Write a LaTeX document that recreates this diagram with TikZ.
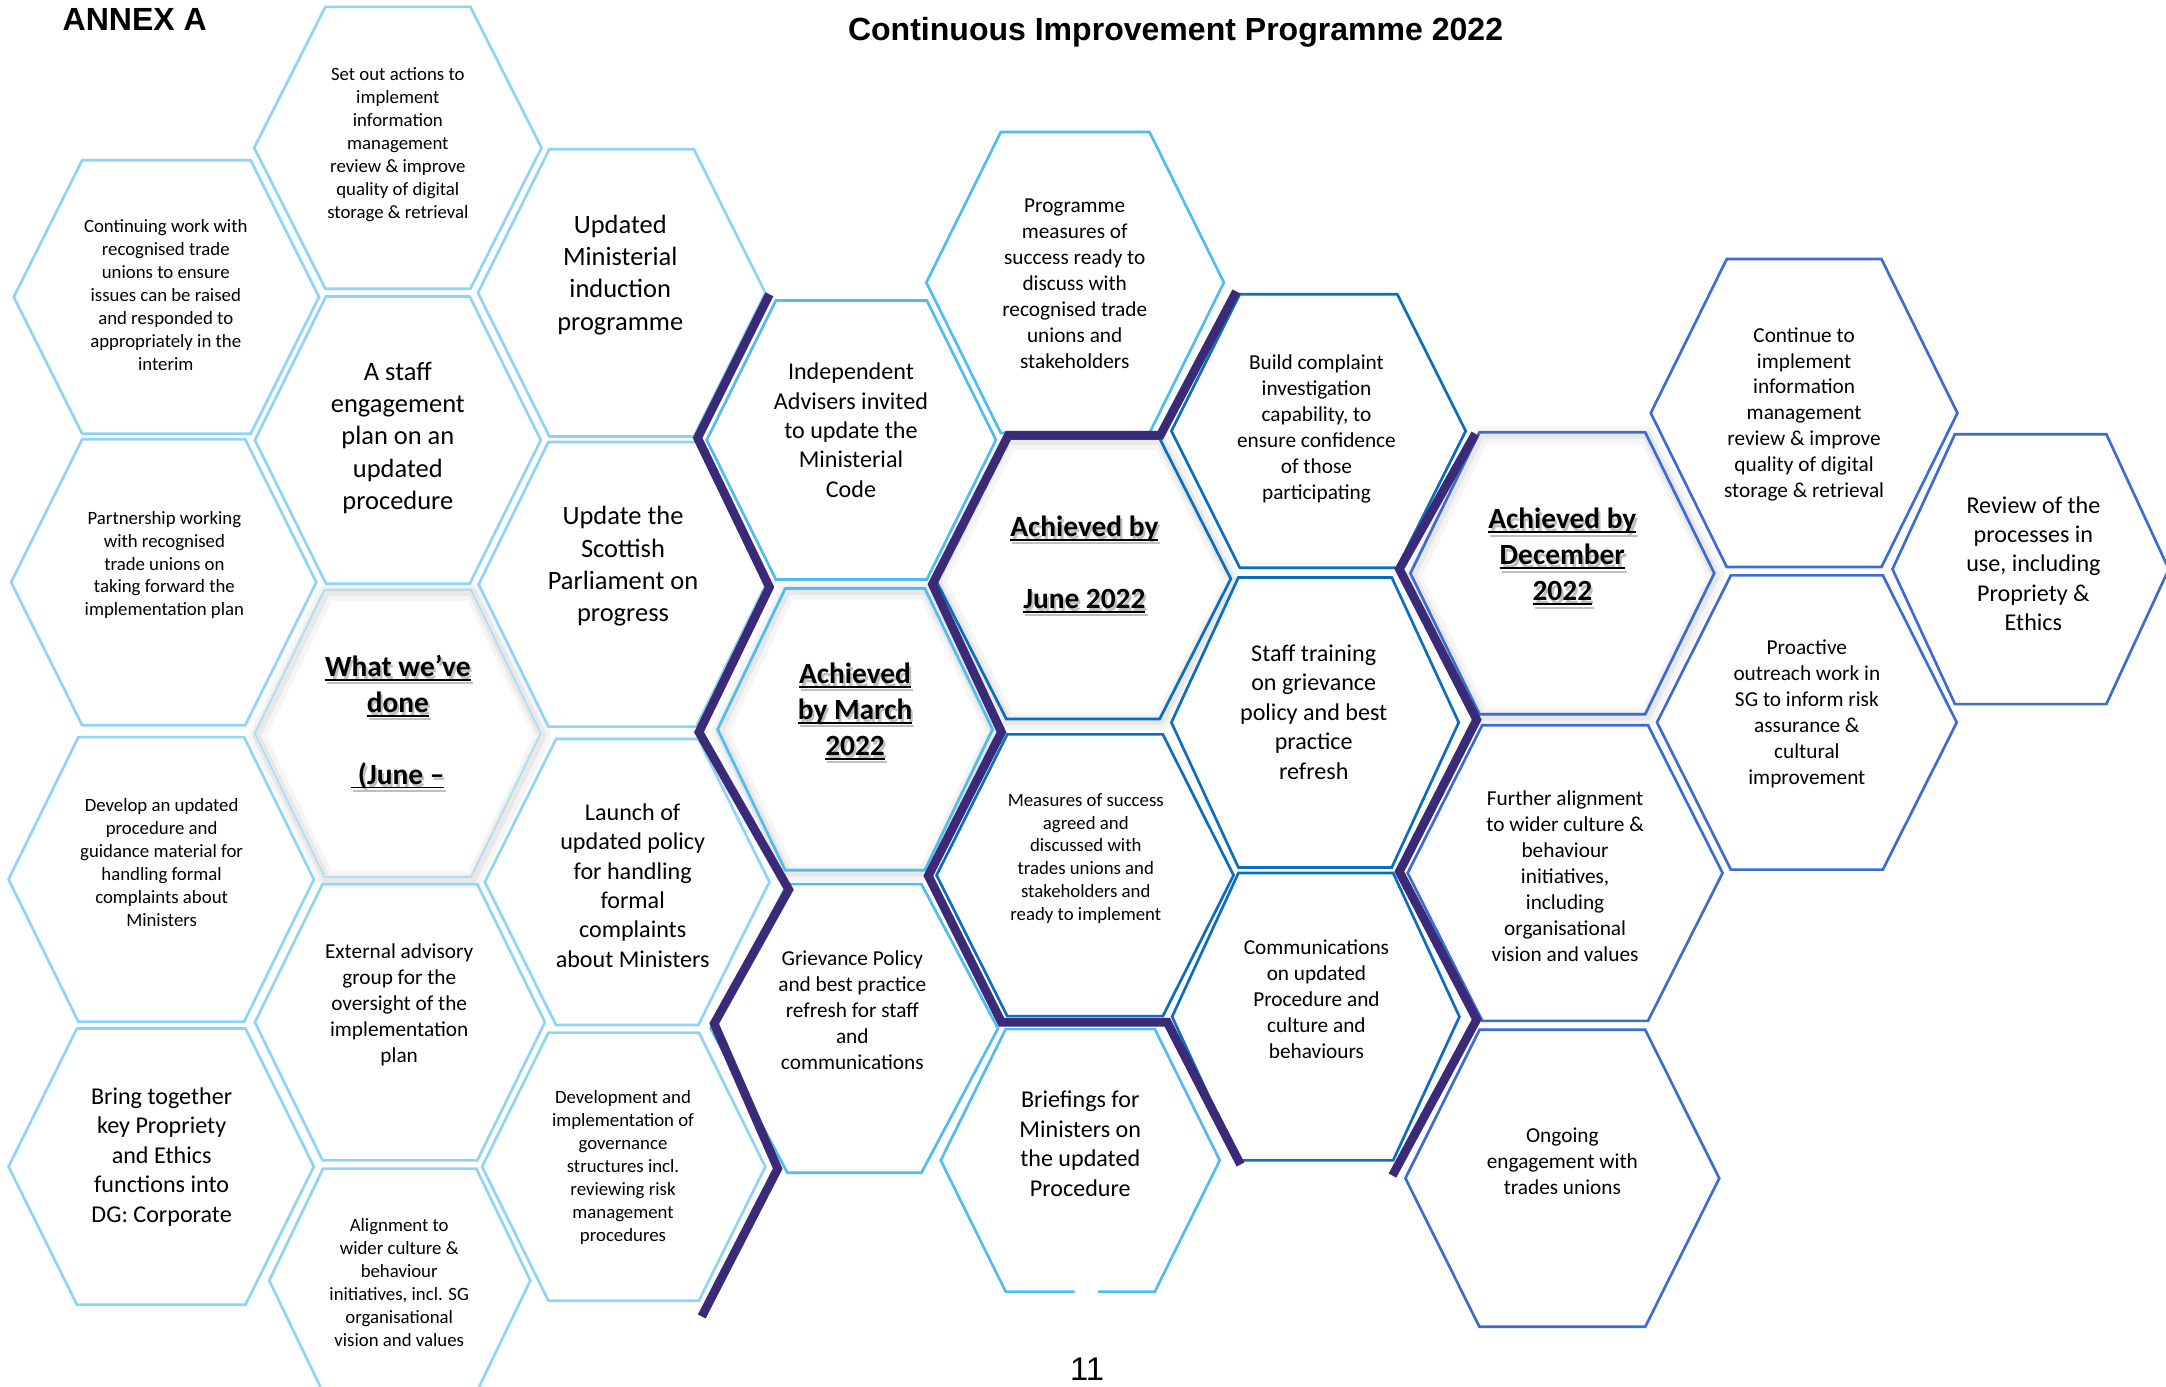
\documentclass[tikz,border=0pt]{standalone}
\usepackage{fontspec}
\setmainfont{Carlito}
\newfontfamily\arialfont{Liberation Sans}

\definecolor{celllight}{HTML}{8FD3F7}
\definecolor{cellmid}{HTML}{4FBCF2}
\definecolor{celldark}{HTML}{0B6DC0}
\definecolor{cellroyal}{HTML}{3C6BD2}
\definecolor{timelinepurple}{HTML}{3A2A78}

% underline at a fixed depth below the baseline
\newcommand{\ulined}[1]{\setbox0\hbox{#1}\rlap{\rule[-1.8pt]{\wd0}{0.8pt}}\box0}

\begin{document}
\begin{tikzpicture}[x=0.02cm, y=-0.02cm,
	lightcell/.style={draw=celllight, line width=1.1pt},
	midcell/.style={draw=cellmid, line width=1.1pt},
	darkcell/.style={draw=celldark, line width=1.1pt},
	royalcell/.style={draw=cellroyal, line width=1.1pt},
	cellglow/.style={draw=black!#1, line join=round},
	timeline/.style={draw=timelinepurple, line width=3.6pt},
	s7text/.style={font=\fontsize{7.74}{9.45}\selectfont, align=center, inner sep=0},
	s8text/.style={font=\fontsize{8.77}{10.7}\selectfont, align=center, inner sep=0},
	s9text/.style={font=\fontsize{9.93}{12.1}\selectfont, align=center, inner sep=0},
	s10text/.style={font=\fontsize{10.9}{13.3}\selectfont, align=center, inner sep=0},
	headtext/.style={font=\fontsize{12.1}{14.8}\selectfont\bfseries, align=center, inner sep=0},
	headshade/.style={headtext, text=black!25}]
	\path [use as bounding box, clip] (0,0) rectangle (1568,1004);

	% Glow round the milestone cells %
	\foreach \cx/\cy/\w/\a/\h in {288/531/103.5/53/104, 619/528/99.5/50.5/102, 784/419/107/55.5/101.5, 1131/415/110/60/102}
		{\draw [cellglow=4, line width=7pt, shift={(1.5,2)}] (\cx-\w,\cy) -- (\cx-\a,\cy-\h) -- (\cx+\a,\cy-\h) -- (\cx+\w,\cy) -- (\cx+\a,\cy+\h) -- (\cx-\a,\cy+\h) -- cycle;
		 \draw [cellglow=9, line width=3.5pt, shift={(1,1.5)}] (\cx-\w,\cy) -- (\cx-\a,\cy-\h) -- (\cx+\a,\cy-\h) -- (\cx+\w,\cy) -- (\cx+\a,\cy+\h) -- (\cx-\a,\cy+\h) -- cycle;}

	% Light cells, what has been done %
	\foreach \cx/\cy/\w/\a/\h in {120.5/215/110.5/61/99, 118.5/421.5/110.5/59/103.5, 116.7/636.6/110.5/60/103, 116.7/844.5/110.5/61/100,
			288/107/104/52.5/102, 288/318.6/103.5/52/104, 289.5/740/105/56/100, 289.4/927/94.5/55.5/81,
			450/212/104/52.3/104, 450.5/423/104/53.5/103, 454/638.5/103/51.5/103.5, 451.5/844.6/102.5/54.5/97}
		{\draw [lightcell] (\cx-\w,\cy) -- (\cx-\a,\cy-\h) -- (\cx+\a,\cy-\h) -- (\cx+\w,\cy) -- (\cx+\a,\cy+\h) -- (\cx-\a,\cy+\h) -- cycle;}
	\draw [draw=celllight!80, line width=0.6pt] (184.5,531) -- (235,427) -- (341,427) -- (391.5,531) -- (341,635) -- (235,635) -- cycle;

	% Mid blue cells %
	\foreach \cx/\cy/\w/\a/\h in {616.3/318.5/104.7/54.6/101, 619/528/99.5/50.5/102, 618.5/744.5/104/48.5/104.5, 778.3/204.5/107.7/53.8/109}
		{\draw [midcell] (\cx-\w,\cy) -- (\cx-\a,\cy-\h) -- (\cx+\a,\cy-\h) -- (\cx+\w,\cy) -- (\cx+\a,\cy+\h) -- (\cx-\a,\cy+\h) -- cycle;}
	\draw [midcell] (795,935) -- (836,935) -- (883,840) -- (836,745) -- (728,745) -- (681,840) -- (728,935) -- (778,935);

	% Dark blue cells %
	\foreach \cx/\cy/\w/\a/\h in {784/419/107/55.5/101.5, 785.5/633.6/107.5/56.3/102, 954.5/312/106.5/57/99, 952/523/104/55.5/105, 952.5/736/104/56/104}
		{\draw [darkcell] (\cx-\w,\cy) -- (\cx-\a,\cy-\h) -- (\cx+\a,\cy-\h) -- (\cx+\w,\cy) -- (\cx+\a,\cy+\h) -- (\cx-\a,\cy+\h) -- cycle;}

	% Royal blue cells %
	\foreach \cx/\cy/\w/\a/\h in {1131/415/110/60/102, 1133/632/114/60/107, 1131/853/113.6/60/107.5, 1306/299/111/56/111.5, 1308/523/108.5/55/106.5, 1470/412/100/54.8/97.7}
		{\draw [royalcell] (\cx-\w,\cy) -- (\cx-\a,\cy-\h) -- (\cx+\a,\cy-\h) -- (\cx+\w,\cy) -- (\cx+\a,\cy+\h) -- (\cx-\a,\cy+\h) -- cycle;}

	% Timeline borders %
	\draw [timeline] (557,213) -- (505,317) -- (557,425) -- (506,530) -- (571,644) -- (517,741) -- (563,846) -- (508,953);
	\draw [timeline] (895,211) -- (840,315) -- (730,315) -- (675,423) -- (725,530) -- (672,634) -- (725,740) -- (845,740) -- (898,843);
	\draw [timeline] (1068,314) -- (1013,412) -- (1069,521) -- (1013,631) -- (1069,738) -- (1008,851);

	% Headings %
	\node (annex) at (45,22) [anchor=base west, inner sep=0, font=\arialfont\fontsize{13.2}{15}\selectfont\bfseries] {ANNEX A};
	\node (title) at (851,29.5) [anchor=base, inner sep=0, font=\arialfont\fontsize{13.2}{15}\selectfont\bfseries] {Continuous Improvement Programme 2022};
	\node (pagenum) at (787,999) [anchor=base, inner sep=0, font=\arialfont\fontsize{13.5}{16}\selectfont] {11};

	% Column one %
	\node (unions) at (120,213.5) [s7text] {Continuing work with\\recognised trade\\unions to ensure\\issues can be raised\\and responded to\\appropriately in the\\interim};
	\node (partnership) at (119,409) [s7text] {Partnership working\\with recognised\\trade unions on\\taking forward the\\implementation plan};
	\node (develop) at (117,624.5) [s7text] {Develop an updated\\procedure and\\guidance material for\\handling formal\\complaints about\\Ministers};
	\node (bring) at (117,837.5) [s9text] {Bring together\\key Propriety\\and Ethics\\functions into\\DG: Corporate};

	% Column two %
	\node (setout) at (288,104.5) [s7text] {Set out actions to\\implement\\information\\management\\review \& improve\\quality of digital\\storage \& retrieval};
	\node (engagement) at (288,317) [s10text] {A staff\\engagement\\plan on an\\updated\\procedure};
	\node (doneshade) at (289.5,525) [headshade] {\ulined{What we’ve}\\\ulined{done}\\[14.8pt]\ulined{\ (June –}};
	\node (done) at (288,522.5) [headtext] {\ulined{What we’ve}\\\ulined{done}\\[14.8pt]\ulined{\ (June –}};
	\node (advisory) at (289,727.5) [s8text] {External advisory\\group for the\\oversight of the\\implementation\\plan};
	\node (alignment) at (289,928.5) [s7text] {Alignment to\\wider culture \&\\behaviour\\initiatives, incl. SG\\organisational\\vision and values};

	% Column three %
	\node (induction) at (449,199) [s10text] {Updated\\Ministerial\\induction\\programme};
	\node (parliament) at (451,410) [s10text] {Update the\\Scottish\\Parliament on\\progress};
	\node (launch) at (458,641) [s9text] {Launch of\\updated policy\\for handling\\formal\\complaints\\about Ministers};
	\node (governance) at (451,845) [s7text] {Development and\\implementation of\\governance\\structures incl.\\reviewing risk\\management\\procedures};

	% March %
	\node (advisers) at (616,311.5) [s9text] {Independent\\Advisers invited\\to update the\\Ministerial\\Code};
	\node (marchshade) at (620.5,517.5) [headshade] {\ulined{Achieved}\\\ulined{by March}\\\ulined{2022}};
	\node (march) at (619,515) [headtext] {\ulined{Achieved}\\\ulined{by March}\\\ulined{2022}};
	\node (grievance) at (617,731.5) [s8text] {Grievance Policy\\and best practice\\refresh for staff\\and\\communications};

	% June %
	\node (measures) at (778,205.5) [s8text] {Programme\\measures of\\success ready to\\discuss with\\recognised trade\\unions and\\stakeholders};
	\node (juneshade) at (786.5,411) [headshade] {\ulined{Achieved by}\\[14.8pt]\ulined{June 2022}};
	\node (june) at (785,408.5) [headtext] {\ulined{Achieved by}\\[14.8pt]\ulined{June 2022}};
	\node (agreed) at (786,621.5) [s7text] {Measures of success\\agreed and\\discussed with\\trades unions and\\stakeholders and\\ready to implement};
	\node (briefings) at (782,828) [s9text] {Briefings for\\Ministers on\\the updated\\Procedure};

	% Between June and December %
	\node (complaint) at (953,310.5) [s8text] {Build complaint\\investigation\\capability, to\\ensure confidence\\of those\\participating};
	\node (training) at (951,515.5) [s9text] {Staff training\\on grievance\\policy and best\\practice\\refresh};
	\node (communications) at (953,723.5) [s8text] {Communications\\on updated\\Procedure and\\culture and\\behaviours};

	% December %
	\node (decembershade) at (1132.5,405.5) [headshade] {\ulined{Achieved by}\\\ulined{December}\\\ulined{2022}};
	\node (december) at (1131,403) [headtext] {\ulined{Achieved by}\\\ulined{December}\\\ulined{2022}};
	\node (culture) at (1133,634.5) [s8text] {Further alignment\\to wider culture \&\\behaviour\\initiatives,\\including\\organisational\\vision and values};
	\node (ongoing) at (1131,840.5) [s8text] {Ongoing\\engagement with\\trades unions};

	% After December %
	\node (continue) at (1306,300) [s8text] {Continue to\\implement\\information\\management\\review \& improve\\quality of digital\\storage \& retrieval};
	\node (outreach) at (1308,517) [s8text] {Proactive\\outreach work in\\SG to inform risk\\assurance \&\\cultural\\improvement};
	\node (review) at (1472,408) [s9text] {Review of the\\processes in\\use, including\\Propriety \&\\Ethics};
\end{tikzpicture}
\end{document}
